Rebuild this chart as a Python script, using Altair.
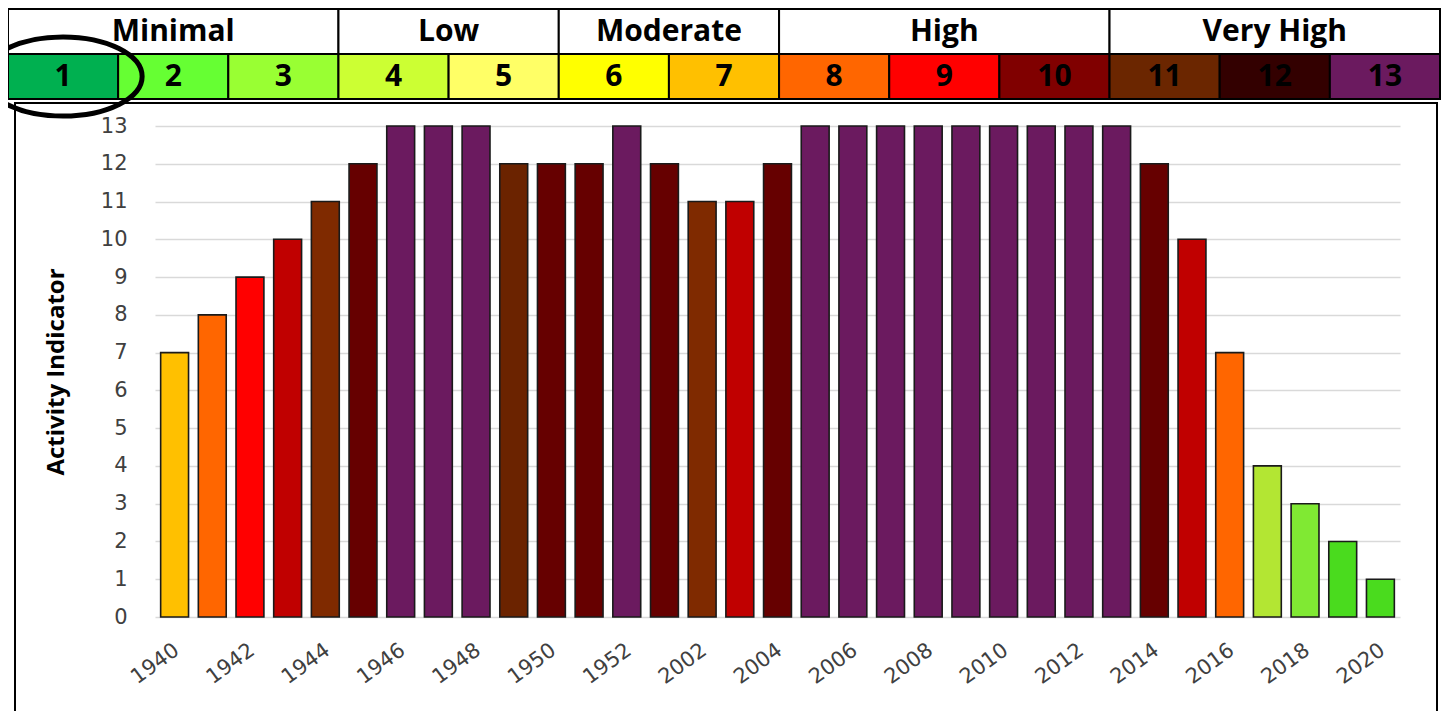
import altair as alt
import pandas as pd

# ---------------- data ----------------
years = ["1940", "1941", "1942", "1943", "1944", "1945", "1946", "1947", "1948",
         "1949", "1950", "1951", "1952", "1953", "2002", "2003", "2004", "2005",
         "2006", "2007", "2008", "2009", "2010", "2011", "2012", "2013", "2014",
         "2015", "2016", "2017", "2018", "2019", "2020"]
activity = [7, 8, 9, 10, 11, 12, 13, 13, 13, 12, 12, 12, 13, 12, 11, 11, 12,
            13, 13, 13, 13, 13, 13, 13, 13, 13, 12, 10, 7, 4, 3, 2, 1]
bar_colors = ["#FFC000", "#FF6600", "#FF0000", "#C00000", "#7F2A00", "#660000",
              "#6B1A5F", "#6B1A5F", "#6B1A5F", "#6B2300", "#660000", "#660000",
              "#6B1A5F", "#660000", "#7F2A00", "#C00000", "#660000",
              "#6B1A5F", "#6B1A5F", "#6B1A5F", "#6B1A5F", "#6B1A5F", "#6B1A5F",
              "#6B1A5F", "#6B1A5F", "#6B1A5F", "#660000", "#C00000", "#FF6600",
              "#B3E633", "#80E933", "#4ADB1E", "#4ADB1E"]

levels = list(range(1, 14))
level_colors = ["#00B050", "#66FF33", "#99FF33", "#CCFF33", "#FFFF66", "#FFFF00",
                "#FFC000", "#FF6600", "#FF0000", "#800000", "#6B2600", "#330000",
                "#6B1A5F"]
groups = ["Minimal", "Low", "Moderate", "High", "Very High"]
group_first = [1, 4, 6, 8, 11]
group_last = [3, 5, 7, 10, 13]
highlighted_level = 1

# ---------------- tables ----------------
bars_df = pd.DataFrame({"year": years, "value": activity, "color": bar_colors})

cells_df = pd.DataFrame({"level": levels, "color": level_colors})
cells_df["x0"] = cells_df["level"] - 1
cells_df["x1"] = cells_df["level"]
cells_df["xc"] = cells_df["level"] - 0.5
cells_df["label"] = cells_df["level"].astype(str)
cells_df["y0"] = 0
cells_df["y1"] = 1
cells_df["yc"] = 0.5

groups_df = pd.DataFrame({"group": groups, "first": group_first, "last": group_last})
groups_df["x0"] = groups_df["first"] - 1
groups_df["x1"] = groups_df["last"]
groups_df["xc"] = (groups_df["x0"] + groups_df["x1"]) / 2
groups_df["y0"] = 1
groups_df["y1"] = 2
groups_df["yc"] = 1.5

mark_df = pd.DataFrame({"xc": [highlighted_level - 0.5], "yc": [0.5]})
frame_df = pd.DataFrame({"k": [0]})

# ---------------- scales ----------------
W, H = 1245, 491
LX = alt.Scale(domain=[0, 13], range=[-147, 1285], nice=False, zero=False)
LY = alt.Scale(domain=[0, 2], range=[-27, -117], nice=False, zero=False)

LEG_FONT = "Open Sans"
AX_FONT = "DejaVu Sans"

# ---------------- layers ----------------
frame = alt.Chart(frame_df).mark_rect(fill=None, stroke="black", strokeWidth=2).encode(
    x=alt.value(-140), x2=alt.value(1282), y=alt.value(-23), y2=alt.value(700)
)

bars = alt.Chart(bars_df).mark_bar(stroke="#1a1a1a", strokeWidth=1.6).encode(
    x=alt.X("year:N", sort=None,
            scale=alt.Scale(paddingInner=0.26, paddingOuter=0.15),
            axis=alt.Axis(values=years[::2], labelAngle=-36, labelAlign="right",
                          labelBaseline="top", labelPadding=22, labelOffset=-4,
                          labelFont=AX_FONT, labelFontSize=21, labelColor="#404040",
                          labelOverlap=False, domain=False, ticks=False, grid=False,
                          title=None)),
    y=alt.Y("value:Q", scale=alt.Scale(domain=[0, 13], nice=False),
            axis=alt.Axis(values=list(range(0, 14)), grid=True, gridColor="#D9D9D9",
                          gridWidth=1.5, domain=False, ticks=False, labelPadding=28,
                          labelFont=AX_FONT, labelFontSize=21, labelColor="#404040",
                          title="Activity Indicator", titleFont=LEG_FONT,
                          titleFontSize=24, titleFontWeight="bold", titleColor="black",
                          titlePadding=32)),
    color=alt.Color("color:N", scale=None),
)

cells = alt.Chart(cells_df).mark_rect(stroke="black", strokeWidth=2).encode(
    x=alt.X("x0:Q", scale=LX, axis=None), x2="x1:Q",
    y=alt.Y("y0:Q", scale=LY, axis=None), y2="y1:Q",
    color=alt.Color("color:N", scale=None),
)
cell_text = alt.Chart(cells_df).mark_text(font=LEG_FONT, fontSize=30, fontWeight="bold",
                                          color="black", baseline="middle").encode(
    x=alt.X("xc:Q", scale=LX, axis=None),
    y=alt.Y("yc:Q", scale=LY, axis=None),
    text="label:N",
)
heads = alt.Chart(groups_df).mark_rect(fill="white", stroke="black", strokeWidth=2).encode(
    x=alt.X("x0:Q", scale=LX, axis=None), x2="x1:Q",
    y=alt.Y("y0:Q", scale=LY, axis=None), y2="y1:Q",
)
head_text = alt.Chart(groups_df).mark_text(font=LEG_FONT, fontSize=30, fontWeight="bold",
                                           color="black", baseline="middle").encode(
    x=alt.X("xc:Q", scale=LX, axis=None),
    y=alt.Y("yc:Q", scale=LY, axis=None),
    text="group:N",
)
ellipse = alt.Chart(mark_df).mark_point(
    shape="M -1 0 A 1 0.5 0 1 0 1 0 A 1 0.5 0 1 0 -1 0 Z",
    size=25000, filled=False, stroke="black", strokeWidth=5, opacity=1,
).encode(
    x=alt.X("xc:Q", scale=LX, axis=None),
    y=alt.Y("yc:Q", scale=LY, axis=None),
)

chart = alt.layer(frame, bars, heads, head_text, cells, cell_text, ellipse).resolve_scale(
    x="independent", y="independent", color="independent"
).properties(
    width=W, height=H,
    autosize=alt.AutoSizeParams(type="none"),
    padding={"left": 147, "top": 118, "right": 41, "bottom": 94},
    background="white",
).configure_view(stroke=None)

chart.save("out.html", embed_options={"renderer": "svg", "actions": False})
